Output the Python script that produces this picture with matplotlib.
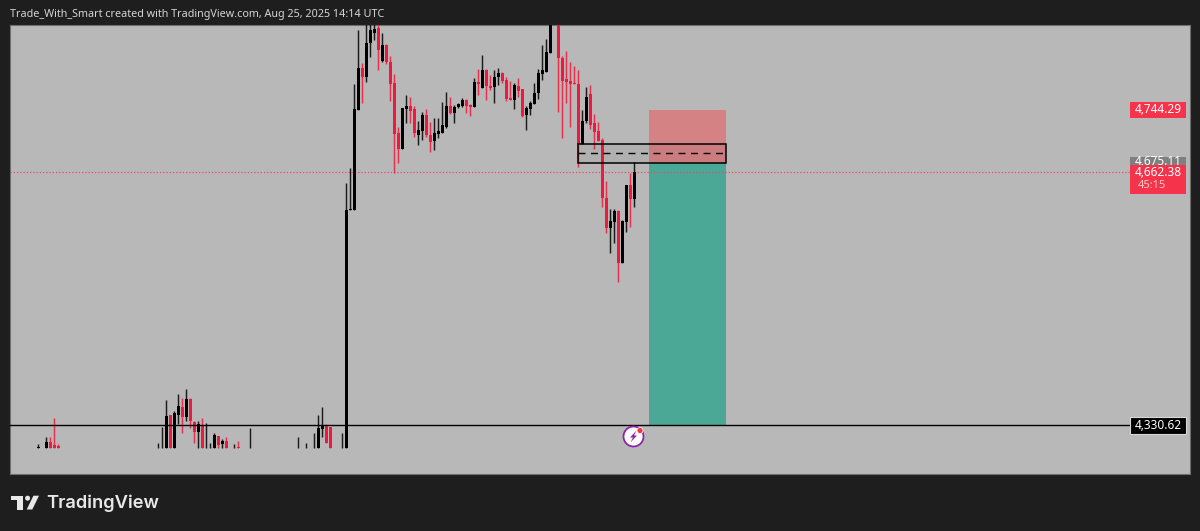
import matplotlib
matplotlib.use('Agg')
import matplotlib.pyplot as plt
from matplotlib.patches import Rectangle, Polygon, Ellipse

# candle data (candle number, O, H, L, C)
idx = [0, 1, 2, 3, 4, 5, 30, 31, 32, 33, 34, 35, 36, 37, 38, 39, 40, 41, 42, 43, 44, 45, 46, 47, 49, 50, 53,
       65, 67, 69, 70, 71, 72, 73, 76, 77, 78, 79, 80, 81, 82, 83, 84, 85, 86, 87, 88, 89, 90, 91, 92, 93, 94,
       95, 96, 97, 98, 99, 100, 101, 102, 103, 104, 105, 106, 107, 108, 109, 110, 111, 112, 113, 114, 115, 116,
       117, 118, 119, 120, 121, 122, 123, 124, 125, 126, 127, 128, 130, 131, 132, 133, 134, 135, 136, 137, 138,
       139, 140, 141, 142, 143, 144, 145, 146, 147, 148, 149]
opens = [4300, 4300, 4300, 4308.3, 4304.3, 4303, 4300, 4300, 4300, 4343.3, 4300, 4343.7, 4353.8, 4341.1, 4364.7,
         4334.9, 4321.8, 4330.6, 4300, 4300, 4300, 4316.5, 4305.3, 4309.6, 4300, 4302, 4300,
         4300, 4300, 4300, 4300, 4325.7, 4329.3, 4328.4, 4300, 4300, 4612.9, 4612.9, 4744.2, 4799.4, 4788, 4832.2,
         4845.8, 4851.9, 4809, 4829.6, 4807.7, 4779.3, 4714.4, 4693, 4745.6, 4749.5, 4745.6,
         4711.4, 4717, 4737.7, 4711.4, 4703.9, 4712.7, 4714.4, 4722.3, 4749.5, 4740.3, 4748.2, 4749.5, 4757.4,
         4750.8, 4747.8, 4781.4, 4773.5, 4796.8, 4775.8, 4774.8, 4787.2, 4793.2,
         4783.6, 4760, 4757.4, 4775.8, 4771.8, 4737.7, 4745.6, 4752.1, 4766.6, 4791.5, 4794.5, 4819.1, 4860, 4812.5,
         4785, 4782.7, 4780.1, 4778.4, 4699.6, 4729.8, 4765.3,
         4726.8, 4716.7, 4704.9, 4629.1, 4589.3, 4597.6, 4612, 4543.3, 4597.6, 4645.8, 4627.4]
highs = [4305.6, 4300.8, 4315.2, 4314.8, 4340.2, 4305.6, 4307.4, 4328.4, 4363.4, 4343.7, 4349.4, 4371.3, 4365.7,
         4377.5, 4366, 4336.2, 4336.2, 4339.8, 4333.6, 4307, 4320.5, 4316.5, 4312.2, 4314.8, 4305.6, 4309.6, 4327,
         4314.8, 4307.4, 4320.1, 4343.7, 4353.8, 4331.5, 4328.4, 4320.5, 4648.4, 4668.1, 4778.4, 4849.3, 4806, 4870,
         4880, 4880, 4855.9, 4845.4, 4830.9, 4815.2, 4791.5, 4722.3, 4746.5, 4763.9, 4761.3, 4749.5,
         4730.2, 4742, 4745.6, 4728.9, 4733.7, 4733.7, 4755.1, 4768.3, 4761.3, 4750.8, 4753.4, 4760.4, 4758.7,
         4752.1, 4786.3, 4797.7, 4816.5, 4798, 4790.2, 4796.8, 4799.4, 4794.1,
         4787.6, 4782.7, 4779.7, 4786.3, 4771.8, 4749.5, 4756.5, 4779.7, 4798.1, 4829.6, 4837.5, 4880, 4880, 4815,
         4822.1, 4807.7, 4802, 4796.8, 4744.2, 4774.8, 4777,
         4739, 4728.5, 4707.5, 4651, 4614.2, 4614.2, 4612.9, 4599.8, 4645.8, 4661.5, 4676]
lows = [4300, 4300, 4300, 4300, 4300, 4300, 4300, 4300, 4300, 4300, 4300, 4331.9, 4320.1, 4336.2, 4326.6, 4307,
        4300, 4300, 4300, 4300, 4300, 4300, 4300, 4300, 4300, 4300, 4300,
        4300, 4300, 4300, 4300, 4314.8, 4307, 4300, 4300, 4300, 4612.9, 4612.9, 4744, 4753.8, 4781.4, 4813.9,
        4836.2, 4796.8, 4807.7, 4804.7, 4756, 4661.5, 4674.6, 4693, 4727.2, 4727.2, 4708.8,
        4698.3, 4704.9, 4709.2, 4689.5, 4691.7, 4707.5, 4714, 4720.6, 4739, 4727.2, 4746.9, 4748.2, 4740.7,
        4736.4, 4747.8, 4763.9, 4773, 4757.4, 4770.5, 4753.4, 4777.1, 4779.7,
        4756, 4757.4, 4745.6, 4761.7, 4735, 4718, 4737.7, 4752.1, 4758.7, 4783.6, 4794.5, 4819.1, 4742, 4707.5,
        4753.4, 4721.9, 4778.4, 4669.8, 4699.6, 4727.2, 4719.3,
        4693, 4703.9, 4616.9, 4582.7, 4556.5, 4569.6, 4518.8, 4543.3, 4584.4, 4591, 4617.3]
closes = [4302, 4301, 4308.3, 4300, 4300, 4300, 4301, 4301, 4342.4, 4300, 4346, 4355.6, 4340.7, 4365.1, 4336.2,
          4321.8, 4331.9, 4300, 4301, 4301, 4317.5, 4304.3, 4309.6, 4300, 4301, 4300, 4301,
          4301, 4301, 4301, 4326.6, 4329.3, 4307, 4300, 4301, 4612.9, 4614.2, 4745.6, 4799.4, 4788, 4832.2, 4849.3,
          4850.2, 4823, 4829.6, 4807.7, 4778.4, 4712.7, 4693, 4746.5, 4749.5, 4743.3, 4714,
          4718, 4737.7, 4711.4, 4702.6, 4714, 4717, 4724.5, 4749.5, 4740.3, 4748.6, 4752.1, 4757.4, 4749.5,
          4747.8, 4781.4, 4778, 4796.8, 4775.8, 4773.5, 4788, 4793.2, 4782.7,
          4758.7, 4757.4, 4777.1, 4769.6, 4736.4, 4746.9, 4753.8, 4767, 4793.2, 4796.8, 4820.4, 4860, 4812.5, 4782.7,
          4781.4, 4778.4, 4778.4, 4699.6, 4729.8, 4761.7, 4724.5,
          4715.8, 4703.9, 4628.7, 4589.3, 4598.9, 4612, 4543.3, 4598.9, 4645.8, 4627.4, 4662.38]

stop_price = 4744.29
entry_price = 4675.11
last_price = 4662.38
target_price = 4330.62
box_mid = 4687.8
box_top = 4699.6
countdown = '45:15'
title = 'Trade_With_Smart created with TradingView.com, Aug 25, 2025 14:14 UTC'

BG = '#1e1e1e'
PANE = '#b8b8b8'
RED = '#f0183c'

W, H = 1200, 531
fig = plt.figure(figsize=(W / 100, H / 100), dpi=100, facecolor=BG)
ax = fig.add_axes([9.5 / W, 1 - 474 / H, (1190 - 9.5) / W, (474 - 25.5) / H], facecolor=PANE)
ax.set_xlim(-7.2, 287.9)
ax.set_ylim(4266.3, 4855.2)
ax.set_xticks([])
ax.set_yticks([])
for s in ax.spines.values():
    s.set_color('#6e6e6e')
    s.set_linewidth(0.8)

# position zones
ax.add_patch(Rectangle((152.6, entry_price), 19.2, stop_price - entry_price, fc='#d48284', ec='none', zorder=1))
ax.add_patch(Rectangle((152.6, target_price), 19.2, entry_price - target_price, fc='#4ca896', ec='none', zorder=1))

# candles
for i, o, h, l, c in zip(idx, opens, highs, lows, closes):
    col = 'black' if c >= o else RED
    ax.vlines(i, l, h, color=col, lw=1.05, alpha=0.85, zorder=3)
    ax.bar(i, abs(c - o), bottom=min(o, c), width=0.85, color=col, lw=0, zorder=3)

# levels
ax.plot([-7.2, 273], [last_price, last_price], color='#e8486a', lw=0.9, ls=(0, (1, 1.6)), zorder=2)
ax.plot([-7.2, 273], [target_price, target_price], color='black', lw=1.0, zorder=4)

# order block box
ax.add_patch(Rectangle((134.9, entry_price), 36.9, box_top - entry_price, fc=(0, 0, 0, 0.04), ec='black', lw=1.1, zorder=5))
ax.plot([134.9, 171.8], [box_mid, box_mid], color='black', lw=1.0, ls=(0, (5, 4)), zorder=5)


def price_label(price, text, bg, fg='white', half=8.0, ec='none'):
    dy = half * 1.3132
    ax.add_patch(Rectangle((272.9, price - dy), 14.0, 2 * dy, fc=bg, ec=ec, lw=0.8, zorder=6))
    ax.text(279.9, price, text, color=fg, fontsize=8.5, family='Noto Sans', weight='medium', ha='center', va='center', zorder=7)


price_label(stop_price, '4,744.29', '#f5344b')
price_label(target_price, '4,330.62', 'black', ec='#d8d8d8', half=8.5)
price_label(entry_price, '4,675.11', '#7f7f7f', half=5.5)
ax.texts[-1].set_y(entry_price + 1.5)

# last price label with the countdown in it
ax.add_patch(Rectangle((272.9, 4634), 14.0, 37.5, fc='#f5344b', ec='none', zorder=8))
ax.text(279.9, last_price, '4,662.38', color='white', fontsize=8.5, family='Noto Sans', weight='medium', ha='center', va='center', zorder=9)
ax.text(274.9, 4645.5, countdown, color='#ffc8c8', fontsize=8.0, family='Noto Sans', ha='left', va='center', zorder=9)

# header and footer
fig.text(9.5 / W, 1 - 14 / H, title, color='#d4d4d4', fontsize=7.75, family='Noto Sans', ha='left', va='center')
fig.text(46.5 / W, 1 - 503 / H, 'TradingView', color='#e8e8e8', fontsize=13.2, family='Inter', weight='semibold',
         ha='left', va='center')


def px(pts):
    return [(x / W, 1 - y / H) for x, y in pts]


LOGO = '#e8e8e8'
fig.add_artist(Polygon(px([(11, 495.7), (23.3, 495.7), (23.3, 509.5), (16.8, 509.5), (16.8, 500.2), (11, 500.2)]),
                       fc=LOGO, ec='none', transform=fig.transFigure))
fig.add_artist(Polygon(px([(26.7, 509.5), (32.3, 509.5), (39, 495.7), (33.4, 495.7)]), fc=LOGO, ec='none',
                       transform=fig.transFigure))
fig.add_artist(Ellipse((27.6 / W, 1 - 498.2 / H), 5 / W, 5 / H, fc=LOGO, ec='none', transform=fig.transFigure))

# lightning badge
PURPLE = '#8e24aa'
fig.add_artist(Ellipse((633.5 / W, 1 - 436.5 / H), 20 / W, 20 / H, fc='white', ec=PURPLE, lw=1.3, transform=fig.transFigure, zorder=10))
fig.add_artist(Polygon(px([(636.5, 430.5), (630, 437.5), (633, 437.5), (630.5, 442.5), (637, 435.5), (634, 435.5)]),
                       fc=PURPLE, ec='none', transform=fig.transFigure, zorder=11))
fig.add_artist(Ellipse((640 / W, 1 - 430.5 / H), 6 / W, 6 / H, fc='#f23645', ec='white', lw=0.5, transform=fig.transFigure, zorder=12))

fig.savefig('out.png', dpi=100, facecolor=BG)
